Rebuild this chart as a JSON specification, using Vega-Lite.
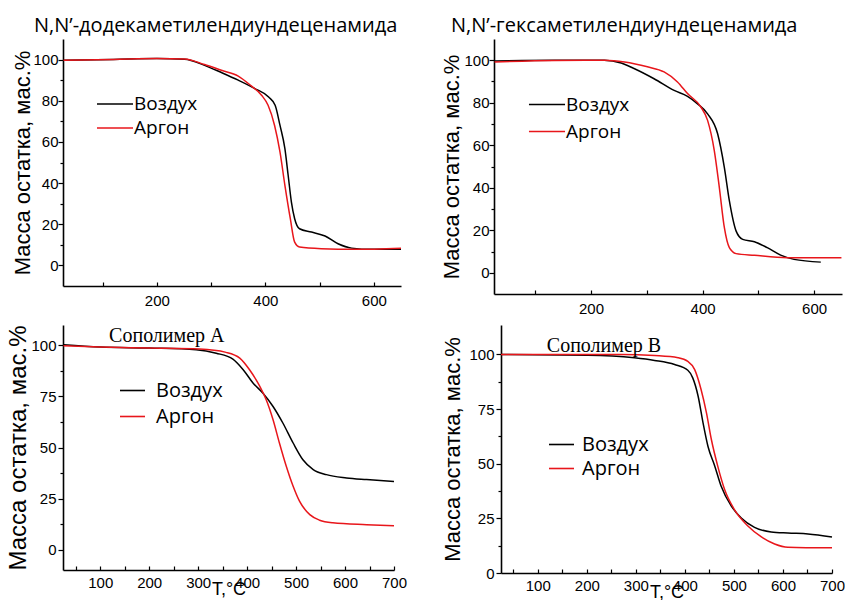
{
  "$schema": "https://vega.github.io/schema/vega-lite/v6.json",
  "padding": {"left": 6, "top": 16, "right": 0, "bottom": 0},
  "background": "white",
  "config": {
    "view": {"stroke": null},
    "axis": {"grid": false, "domainColor": "black", "domainWidth": 1.6, "tickColor": "black", "tickWidth": 1.2, "labelColor": "black", "titleColor": "black", "labelFont": "Liberation Sans", "labelFontSize": 15, "titleFont": "Liberation Sans", "titleFontWeight": "normal", "labelFlush": false, "labelOverlap": false},
    "legend": {"labelFont": "Open Sans", "labelColor": "black", "symbolType": "stroke", "symbolStrokeWidth": 1.6, "title": null},
    "title": {"font": "Open Sans", "fontWeight": "normal", "color": "black", "fontSize": 20}
  },
  "datasets": {
    "p1": [
      {"T": 28, "m": 99.7, "atm": "Воздух"}, {"T": 120, "m": 100.1, "atm": "Воздух"}, {"T": 200, "m": 100.5, "atm": "Воздух"}, {"T": 251, "m": 100.2, "atm": "Воздух"}, {"T": 288, "m": 97.2, "atm": "Воздух"}, {"T": 319, "m": 93.7, "atm": "Воздух"}, {"T": 350, "m": 90, "atm": "Воздух"}, {"T": 380, "m": 86, "atm": "Воздух"}, {"T": 406, "m": 81.8, "atm": "Воздух"}, {"T": 418, "m": 77.8, "atm": "Воздух"}, {"T": 427, "m": 68, "atm": "Воздух"}, {"T": 436, "m": 56.7, "atm": "Воздух"}, {"T": 442, "m": 43.8, "atm": "Воздух"}, {"T": 448, "m": 30.8, "atm": "Воздух"}, {"T": 454, "m": 22.7, "atm": "Воздух"}, {"T": 463, "m": 17.8, "atm": "Воздух"}, {"T": 485, "m": 16.2, "atm": "Воздух"}, {"T": 510, "m": 14.3, "atm": "Воздух"}, {"T": 534, "m": 10.5, "atm": "Воздух"}, {"T": 559, "m": 8.4, "atm": "Воздух"}, {"T": 596, "m": 7.8, "atm": "Воздух"}, {"T": 650, "m": 7.8, "atm": "Воздух"},
      {"T": 28, "m": 99.7, "atm": "Аргон"}, {"T": 120, "m": 100.1, "atm": "Аргон"}, {"T": 200, "m": 100.5, "atm": "Аргон"}, {"T": 251, "m": 100.3, "atm": "Аргон"}, {"T": 288, "m": 97.6, "atm": "Аргон"}, {"T": 319, "m": 94.8, "atm": "Аргон"}, {"T": 350, "m": 92, "atm": "Аргон"}, {"T": 374, "m": 87.2, "atm": "Аргон"}, {"T": 393, "m": 82.7, "atm": "Аргон"}, {"T": 405, "m": 77.8, "atm": "Аргон"}, {"T": 417, "m": 68, "atm": "Аргон"}, {"T": 427, "m": 55, "atm": "Аргон"}, {"T": 436, "m": 38.9, "atm": "Аргон"}, {"T": 446, "m": 22.7, "atm": "Аргон"}, {"T": 454, "m": 11.3, "atm": "Аргон"}, {"T": 463, "m": 8.9, "atm": "Аргон"}, {"T": 503, "m": 8.1, "atm": "Аргон"}, {"T": 565, "m": 7.8, "atm": "Аргон"}, {"T": 650, "m": 8.4, "atm": "Аргон"}
    ],
    "p2": [
      {"T": 27, "m": 99.7, "atm": "Воздух"}, {"T": 134, "m": 100, "atm": "Воздух"}, {"T": 224, "m": 100, "atm": "Воздух"}, {"T": 254, "m": 98.7, "atm": "Воздух"}, {"T": 278, "m": 96, "atm": "Воздух"}, {"T": 313, "m": 91.3, "atm": "Воздух"}, {"T": 349, "m": 85.8, "atm": "Воздух"}, {"T": 373, "m": 83, "atm": "Воздух"}, {"T": 391, "m": 79.5, "atm": "Воздух"}, {"T": 409, "m": 74.8, "atm": "Воздух"}, {"T": 427, "m": 65.4, "atm": "Воздух"}, {"T": 439, "m": 49.6, "atm": "Воздух"}, {"T": 448, "m": 33.9, "atm": "Воздух"}, {"T": 460, "m": 19.7, "atm": "Воздух"}, {"T": 472, "m": 15.7, "atm": "Воздух"}, {"T": 493, "m": 14.6, "atm": "Воздух"}, {"T": 516, "m": 11.8, "atm": "Воздух"}, {"T": 540, "m": 8.3, "atm": "Воздух"}, {"T": 564, "m": 6.3, "atm": "Воздух"}, {"T": 612, "m": 5, "atm": "Воздух"},
      {"T": 27, "m": 99.2, "atm": "Аргон"}, {"T": 134, "m": 99.9, "atm": "Аргон"}, {"T": 224, "m": 100, "atm": "Аргон"}, {"T": 260, "m": 99.2, "atm": "Аргон"}, {"T": 301, "m": 96.9, "atm": "Аргон"}, {"T": 331, "m": 94.5, "atm": "Аргон"}, {"T": 355, "m": 89.8, "atm": "Аргон"}, {"T": 373, "m": 84.3, "atm": "Аргон"}, {"T": 397, "m": 78, "atm": "Аргон"}, {"T": 409, "m": 71.7, "atm": "Аргон"}, {"T": 421, "m": 57.5, "atm": "Аргон"}, {"T": 430, "m": 40.2, "atm": "Аргон"}, {"T": 439, "m": 21.3, "atm": "Аргон"}, {"T": 448, "m": 11.8, "atm": "Аргон"}, {"T": 460, "m": 9, "atm": "Аргон"}, {"T": 493, "m": 8.2, "atm": "Аргон"}, {"T": 552, "m": 7.1, "atm": "Аргон"}, {"T": 649, "m": 7.1, "atm": "Аргон"}
    ],
    "p3": [
      {"T": 25, "m": 100.3, "atm": "Воздух"}, {"T": 100, "m": 99.2, "atm": "Воздух"}, {"T": 200, "m": 98.7, "atm": "Воздух"}, {"T": 296, "m": 97.9, "atm": "Воздух"}, {"T": 337, "m": 96.2, "atm": "Воздух"}, {"T": 371, "m": 93.3, "atm": "Воздух"}, {"T": 392, "m": 88.1, "atm": "Воздух"}, {"T": 412, "m": 81.6, "atm": "Воздух"}, {"T": 432, "m": 76.7, "atm": "Воздух"}, {"T": 453, "m": 70.1, "atm": "Воздух"}, {"T": 473, "m": 62, "atm": "Воздух"}, {"T": 494, "m": 52.2, "atm": "Воздух"}, {"T": 514, "m": 44, "atm": "Воздух"}, {"T": 535, "m": 39.2, "atm": "Воздух"}, {"T": 562, "m": 36.7, "atm": "Воздух"}, {"T": 603, "m": 35.1, "atm": "Воздух"}, {"T": 644, "m": 34.3, "atm": "Воздух"}, {"T": 700, "m": 33.4, "atm": "Воздух"},
      {"T": 25, "m": 99.8, "atm": "Аргон"}, {"T": 100, "m": 99.2, "atm": "Аргон"}, {"T": 200, "m": 98.7, "atm": "Аргон"}, {"T": 303, "m": 98.2, "atm": "Аргон"}, {"T": 357, "m": 96.6, "atm": "Аргон"}, {"T": 385, "m": 93.8, "atm": "Аргон"}, {"T": 405, "m": 88.1, "atm": "Аргон"}, {"T": 426, "m": 79.9, "atm": "Аргон"}, {"T": 439, "m": 73.4, "atm": "Аргон"}, {"T": 453, "m": 63.6, "atm": "Аргон"}, {"T": 466, "m": 52.2, "atm": "Аргон"}, {"T": 480, "m": 40.8, "atm": "Аргон"}, {"T": 494, "m": 31, "atm": "Аргон"}, {"T": 507, "m": 23.7, "atm": "Аргон"}, {"T": 528, "m": 17.1, "atm": "Аргон"}, {"T": 548, "m": 14.4, "atm": "Аргон"}, {"T": 575, "m": 13.1, "atm": "Аргон"}, {"T": 644, "m": 12.2, "atm": "Аргон"}, {"T": 700, "m": 11.7, "atm": "Аргон"}
    ],
    "p4": [
      {"T": 25, "m": 100, "atm": "Воздух"}, {"T": 202, "m": 99.7, "atm": "Воздух"}, {"T": 297, "m": 98.5, "atm": "Воздух"}, {"T": 338, "m": 97.3, "atm": "Воздух"}, {"T": 379, "m": 95.4, "atm": "Воздух"}, {"T": 406, "m": 92.8, "atm": "Воздух"}, {"T": 416, "m": 89.3, "atm": "Воздух"}, {"T": 427, "m": 80.9, "atm": "Воздух"}, {"T": 437, "m": 68.7, "atm": "Воздух"}, {"T": 447, "m": 58, "atm": "Воздух"}, {"T": 461, "m": 48.9, "atm": "Воздух"}, {"T": 474, "m": 39.7, "atm": "Воздух"}, {"T": 495, "m": 30.5, "atm": "Воздух"}, {"T": 515, "m": 25.2, "atm": "Воздух"}, {"T": 542, "m": 20.9, "atm": "Воздух"}, {"T": 576, "m": 18.8, "atm": "Воздух"}, {"T": 610, "m": 18.3, "atm": "Воздух"}, {"T": 651, "m": 17.9, "atm": "Воздух"}, {"T": 700, "m": 16.5, "atm": "Воздух"},
      {"T": 25, "m": 100, "atm": "Аргон"}, {"T": 270, "m": 100, "atm": "Аргон"}, {"T": 338, "m": 99.5, "atm": "Аргон"}, {"T": 386, "m": 98.5, "atm": "Аргон"}, {"T": 406, "m": 96.9, "atm": "Аргон"}, {"T": 420, "m": 93.1, "atm": "Аргон"}, {"T": 433, "m": 84, "atm": "Аргон"}, {"T": 444, "m": 73.3, "atm": "Аргон"}, {"T": 454, "m": 61.1, "atm": "Аргон"}, {"T": 467, "m": 48.9, "atm": "Аргон"}, {"T": 481, "m": 38.2, "atm": "Аргон"}, {"T": 501, "m": 29, "atm": "Аргон"}, {"T": 529, "m": 21.4, "atm": "Аргон"}, {"T": 556, "m": 16.5, "atm": "Аргон"}, {"T": 583, "m": 13.3, "atm": "Аргон"}, {"T": 610, "m": 11.8, "atm": "Аргон"}, {"T": 700, "m": 11.5, "atm": "Аргон"}
    ],
    "lab3": [{"T": 236, "m": 104.5, "label": "Сополимер А"}],
    "lab4": [{"T": 235, "m": 104, "label": "Сополимер В"}]
  },
  "resolve": {"scale": {"color": "independent"}, "legend": {"color": "independent"}},
  "spacing": 8,
  "vconcat": [
    {
      "resolve": {"scale": {"color": "independent"}, "legend": {"color": "independent"}},
      "spacing": 36,
      "hconcat": [
        {
          "width": 338, "height": 247,
          "title": {"text": "N,N’-додекаметилендиундеценамида", "anchor": "start", "frame": "group", "dx": -29, "offset": 3},
          "data": {"name": "p1"},
          "mark": {"type": "line", "interpolate": "monotone", "strokeWidth": 1.5},
          "encoding": {
            "x": {"field": "T", "type": "quantitative", "scale": {"domain": [27, 650], "nice": false, "zero": false},
                  "axis": {"title": null, "values": [100, 200, 300, 400, 500, 600], "labelExpr": "datum.value % 200 === 0 ? datum.label : ''", "tickSize": -4, "labelPadding": 11}},
            "y": {"field": "m", "type": "quantitative", "scale": {"domain": [-10, 110], "nice": false, "zero": false},
                  "axis": {"title": "Масса остатка, мас.%", "titleFontSize": 22, "titlePadding": -2, "values": [0, 10, 20, 30, 40, 50, 60, 70, 80, 90, 100], "labelExpr": "datum.value % 20 === 0 ? datum.label : ''", "tickSize": {"condition": {"test": "datum.value % 20 === 0", "value": 5}, "value": 3}, "labelPadding": 0}},
            "color": {"field": "atm", "type": "nominal", "scale": {"domain": ["Воздух", "Аргон"], "range": ["#000000", "#e8161b"]},
                      "legend": {"orient": "none", "legendX": 33, "legendY": 53, "labelFontSize": 19, "symbolSize": 1300, "labelOffset": 0, "clipHeight": 24, "rowPadding": 0}}
          }
        },
        {
          "width": 348, "height": 255,
          "title": {"text": "N,N’-гексаметилендиундеценамида", "anchor": "start", "frame": "group", "dx": -43, "offset": 3},
          "data": {"name": "p2"},
          "mark": {"type": "line", "interpolate": "monotone", "strokeWidth": 1.5},
          "encoding": {
            "x": {"field": "T", "type": "quantitative", "scale": {"domain": [26, 650], "nice": false, "zero": false},
                  "axis": {"title": null, "values": [100, 200, 300, 400, 500, 600], "labelExpr": "datum.value % 200 === 0 ? datum.label : ''", "tickSize": -4, "labelPadding": 11}},
            "y": {"field": "m", "type": "quantitative", "scale": {"domain": [-10, 110], "nice": false, "zero": false},
                  "axis": {"title": "Масса остатка, мас.%", "titleFontSize": 22, "titlePadding": 0, "values": [0, 10, 20, 30, 40, 50, 60, 70, 80, 90, 100], "labelExpr": "datum.value % 20 === 0 ? datum.label : ''", "tickSize": {"condition": {"test": "datum.value % 20 === 0", "value": 5}, "value": 3}, "labelPadding": 0}},
            "color": {"field": "atm", "type": "nominal", "scale": {"domain": ["Воздух", "Аргон"], "range": ["#000000", "#e8161b"]},
                      "legend": {"orient": "none", "legendX": 34, "legendY": 52, "labelFontSize": 19, "symbolSize": 1300, "labelOffset": 0, "clipHeight": 27, "rowPadding": 0}}
          }
        }
      ]
    },
    {
      "resolve": {"scale": {"color": "independent"}, "legend": {"color": "independent"}},
      "spacing": 34,
      "hconcat": [
        {
          "width": 331, "height": 245,
          "encoding": {
            "x": {"field": "T", "type": "quantitative", "scale": {"domain": [24, 700], "nice": false, "zero": false},
                  "axis": {"title": "T,°C", "titleFontSize": 18, "titlePadding": -10, "values": [50, 100, 150, 200, 250, 300, 350, 400, 450, 500, 550, 600, 650, 700], "labelExpr": "datum.value % 100 === 0 ? datum.label : ''", "tickSize": -4, "labelPadding": 9}},
            "y": {"field": "m", "type": "quantitative", "scale": {"domain": [-10, 110], "nice": false, "zero": false},
                  "axis": {"title": "Масса остатка, мас.%", "titleFontSize": 24, "titlePadding": 0, "values": [0, 12.5, 25, 37.5, 50, 62.5, 75, 87.5, 100], "labelExpr": "datum.value % 25 === 0 ? datum.label : ''", "tickSize": {"condition": {"test": "datum.value % 25 === 0", "value": 5}, "value": 3}, "labelPadding": 2}}
          },
          "layer": [
            {
              "data": {"name": "p3"},
              "mark": {"type": "line", "interpolate": "monotone", "strokeWidth": 1.5},
              "encoding": {
                "color": {"field": "atm", "type": "nominal", "scale": {"domain": ["Воздух", "Аргон"], "range": ["#000000", "#e8161b"]},
                          "legend": {"orient": "none", "legendX": 56, "legendY": 52, "labelFontSize": 20, "symbolSize": 625, "labelOffset": 10, "rowPadding": 2}}
              }
            },
            {
              "data": {"name": "lab3"},
              "mark": {"type": "text", "font": "Liberation Serif", "fontSize": 20, "color": "black"},
              "encoding": {"text": {"field": "label"}}
            }
          ]
        },
        {
          "width": 331, "height": 248,
          "encoding": {
            "x": {"field": "T", "type": "quantitative", "scale": {"domain": [25, 700], "nice": false, "zero": false},
                  "axis": {"title": "T,°C", "titleFontSize": 18, "titlePadding": -10, "values": [50, 100, 150, 200, 250, 300, 350, 400, 450, 500, 550, 600, 650, 700], "labelExpr": "datum.value % 100 === 0 ? datum.label : ''", "tickSize": -4, "labelPadding": 9}},
            "y": {"field": "m", "type": "quantitative", "scale": {"domain": [0, 113.5], "nice": false, "zero": false},
                  "axis": {"title": "Масса остатка, мас.%", "titleFontSize": 22, "titlePadding": 4, "values": [0, 12.5, 25, 37.5, 50, 62.5, 75, 87.5, 100], "labelExpr": "datum.value % 25 === 0 ? datum.label : ''", "tickSize": {"condition": {"test": "datum.value % 25 === 0", "value": 5}, "value": 3}, "labelPadding": 2}}
          },
          "layer": [
            {
              "data": {"name": "p4"},
              "mark": {"type": "line", "interpolate": "monotone", "strokeWidth": 1.5},
              "encoding": {
                "color": {"field": "atm", "type": "nominal", "scale": {"domain": ["Воздух", "Аргон"], "range": ["#000000", "#e8161b"]},
                          "legend": {"orient": "none", "legendX": 47, "legendY": 106, "labelFontSize": 20, "symbolSize": 625, "labelOffset": 7, "rowPadding": -4}}
              }
            },
            {
              "data": {"name": "lab4"},
              "mark": {"type": "text", "font": "Liberation Serif", "fontSize": 20, "color": "black"},
              "encoding": {"text": {"field": "label"}}
            }
          ]
        }
      ]
    }
  ]
}
